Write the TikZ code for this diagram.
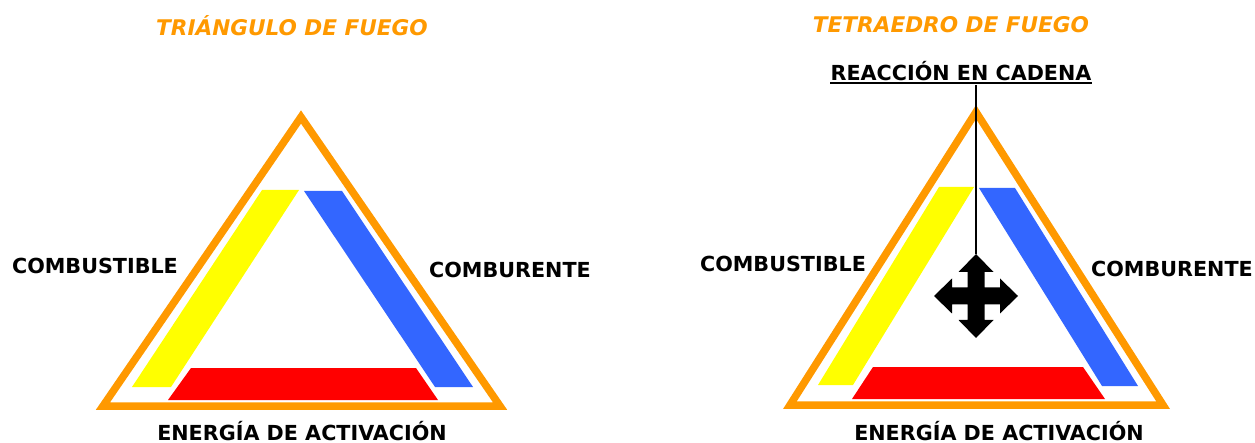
\documentclass[tikz,border=0pt]{standalone}
\usepackage{fontspec}
\usetikzlibrary{calc}
\setmainfont{DejaVu Sans}
\definecolor{fireorange}{HTML}{FF9900}
\definecolor{fireyellow}{HTML}{FFFF00}
\definecolor{fireblue}{HTML}{3366FF}
\definecolor{firered}{HTML}{FF0000}
\tikzset{
  frame/.style={draw=fireorange,line width=7.5pt,line join=miter},
  lbl/.style={font=\fontsize{20.7}{24}\selectfont\bfseries,anchor=base,inner sep=0pt},
  ttl/.style={font=\fontsize{21.6}{25}\selectfont\bfseries\itshape,text=fireorange,anchor=base,inner sep=0pt},
}
\begin{document}
\begin{tikzpicture}[x=1pt,y=-1pt]
\useasboundingbox (0,0) rectangle (1255,443);
% ---------- left: triangle ----------
\node[ttl] (t1) at (292,36) {TRIÁNGULO DE FUEGO};
\fill[fireyellow] (262,190) -- (299,190) -- (171,387) -- (132,387) -- cycle;
\fill[fireblue] (304,191) -- (342,191) -- (473,387) -- (435,387) -- cycle;
\fill[firered] (191,368) -- (416,368) -- (438,400) -- (168,400) -- cycle;
\draw[frame] (301,117) -- (500,406) -- (103,406) -- cycle;
\node[lbl] (c1) at (95,274) {COMBUSTIBLE};
\node[lbl] (o1) at (510,278) {COMBURENTE};
\node[lbl] (e1) at (302,440) {ENERGÍA DE ACTIVACIÓN};
% ---------- right: tetrahedron ----------
\node[ttl] (t2) at (951,33) {TETRAEDRO DE FUEGO};
\fill[fireyellow] (939,187) -- (974,187) -- (853,385) -- (818,385) -- cycle;
\fill[fireblue] (979,188) -- (1015,188) -- (1138,386) -- (1102,386) -- cycle;
\fill[firered] (873,367) -- (1083,367) -- (1105,399) -- (852,399) -- cycle;
\draw[frame] (976,112) -- (1163,405) -- (790,405) -- cycle;
\node[lbl] (c2) at (783,272) {COMBUSTIBLE};
\node[lbl] (o2) at (1172,277) {COMBURENTE};
\node[lbl] (e2) at (999,440) {ENERGÍA DE ACTIVACIÓN};
\node[lbl] (rc) at (961,81) {REACCIÓN EN CADENA};
\draw[line width=1.8pt] ([yshift=-2pt]rc.base west) -- ([yshift=-2pt]rc.base east);
% four-way arrow
\coordinate (ac) at (976,296);
\coordinate (atop) at (976,254);
\fill[black] ($(ac)+(-8.5,-24)$) -- ($(ac)+(-17.5,-24)$) -- ($(ac)+(0,-42)$) -- ($(ac)+(17.5,-24)$) -- ($(ac)+(8.5,-24)$)
  -- ($(ac)+(8.5,-8.5)$) -- ($(ac)+(24,-8.5)$) -- ($(ac)+(24,-17.5)$) -- ($(ac)+(42,0)$) -- ($(ac)+(24,17.5)$) -- ($(ac)+(24,8.5)$)
  -- ($(ac)+(8.5,8.5)$) -- ($(ac)+(8.5,24)$) -- ($(ac)+(17.5,24)$) -- ($(ac)+(0,42)$) -- ($(ac)+(-17.5,24)$) -- ($(ac)+(-8.5,24)$)
  -- ($(ac)+(-8.5,8.5)$) -- ($(ac)+(-24,8.5)$) -- ($(ac)+(-24,17.5)$) -- ($(ac)+(-42,0)$) -- ($(ac)+(-24,-17.5)$) -- ($(ac)+(-24,-8.5)$)
  -- ($(ac)+(-8.5,-8.5)$) -- cycle;
\draw[line width=1.5pt] (atop |- rc.south) ++(0,4) -- (atop);
\end{tikzpicture}
\end{document}
